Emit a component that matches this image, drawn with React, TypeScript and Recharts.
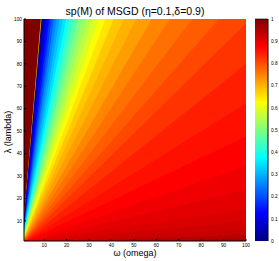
import React from 'react';
import { ComposedChart, AreaChart, Area, XAxis, YAxis } from 'recharts';

// ---- data ----
const omegaTicks = [10, 20, 30, 40, 50, 60, 70, 80, 90, 100];
const lambdaTicks = [10, 20, 30, 40, 50, 60, 70, 80, 90, 100];
const colorbarTicks = [0, 0.1, 0.2, 0.3, 0.4, 0.5, 0.6, 0.7, 0.8, 0.9, 1];

// contour bands fan out from the origin: each band starts at a ratio ω/λ (ascending)
const bandStartRatio = [
  0, 0.085, 0.088, 0.093, 0.099, 0.106, 0.114, 0.123, 0.133, 0.144, 0.156, 0.169,
  0.183, 0.198, 0.214, 0.231, 0.25, 0.27, 0.292, 0.316, 0.343, 0.373, 0.41, 0.455,
  0.51, 0.58, 0.66, 0.76, 0.88, 1.02, 1.25, 1.6, 2.1, 2.9, 4.2, 6.5, 10, 16, 26, 45,
];
// sp(M) value in each band
const bandValue = [
  1.0, 0.68, 0.01, 0.04, 0.08, 0.11, 0.14, 0.18, 0.22, 0.26, 0.29, 0.32,
  0.35, 0.39, 0.43, 0.46, 0.5, 0.53, 0.56, 0.59, 0.62, 0.65, 0.68, 0.70,
  0.72, 0.745, 0.765, 0.785, 0.805, 0.825, 0.845, 0.86, 0.875, 0.89, 0.9, 0.91, 0.92, 0.93, 0.945, 0.96,
];

const colorbarData = [
  { x: 0, v: 1 },
  { x: 1, v: 1 },
];

// ---- jet colormap ----
function jet(v: number): string {
  const c = (t: number) => Math.max(0, Math.min(1, 1.5 - Math.abs(4 * v - t)));
  const r = Math.round(c(3) * 255);
  const g = Math.round(c(2) * 255);
  const b = Math.round(c(1) * 255);
  return `rgb(${r},${g},${b})`;
}

const LMAX = 100;
const lam = (x: number, r: number) => {
  if (r === 0) return LMAX;
  return Math.min(LMAX, x / r);
};

// each band painted from the bottom up to its upper boundary λ = ω / ratio;
// later (larger-ratio) bands cover the lower part of earlier ones
function buildTable() {
  const xs = [0, LMAX];
  bandStartRatio.forEach((r) => {
    if (r > 0 && r * LMAX < LMAX) xs.push(r * LMAX);
  });
  xs.sort((a, b) => a - b);
  return xs.map((x) => {
    const row: Record<string, number> = { w: x };
    bandStartRatio.forEach((lo, i) => {
      row['u' + i] = lam(x, lo);
    });
    return row;
  });
}

const table = buildTable();

const FONT = "'Liberation Sans', Arial, Helvetica, sans-serif";
const tickStyle = { fontSize: 4.8, fill: '#000', fontFamily: FONT };

export default function App() {
  return (
    <div style={{ position: 'absolute', left: 0, top: 0, width: 279, height: 261, background: '#fff' }}>
      <div
        style={{
          position: 'absolute', left: 0, top: 5, width: 270, textAlign: 'center',
          fontFamily: FONT, fontSize: 10.5, lineHeight: '12px', color: '#000', whiteSpace: 'nowrap',
        }}
      >
        sp(M) of MSGD (η=0.1,δ=0.9)
      </div>
      <div
        style={{
          position: 'absolute', left: 0, top: 248, width: 270, textAlign: 'center',
          fontFamily: FONT, fontSize: 9, lineHeight: '10px', color: '#000', whiteSpace: 'nowrap',
        }}
      >
        ω (omega)
      </div>
      <div
        style={{
          position: 'absolute', left: 8, top: 132, transform: 'translate(-50%,-50%) rotate(-90deg)',
          fontFamily: FONT, fontSize: 9, lineHeight: '10px', color: '#000', whiteSpace: 'nowrap',
        }}
      >
        λ (lambda)
      </div>

      <div style={{ position: 'absolute', left: 0, top: 0 }}>
        <ComposedChart width={279} height={261} data={table} margin={{ top: 19, right: 33, bottom: 0, left: 0 }}>
          {bandStartRatio.map((_, i) => (
            <Area
              key={i}
              type="linear"
              dataKey={'u' + i}
              fill={jet(bandValue[i])}
              fillOpacity={1}
              stroke="none"
              dot={false}
              activeDot={false}
              isAnimationActive={false}
            />
          ))}
          <XAxis
            dataKey="w"
            type="number"
            domain={[1, 100]}
            allowDataOverflow
            ticks={omegaTicks}
            height={20}
            tickSize={-2}
            tickMargin={5}
            tick={tickStyle}
            stroke="#000"
            axisLine={{ stroke: '#000' }}
            tickLine={{ stroke: '#000' }}
          />
          <YAxis
            type="number"
            domain={[1, 100]}
            allowDataOverflow
            ticks={lambdaTicks}
            width={24}
            tickSize={-2}
            tickMargin={4}
            tick={tickStyle}
            stroke="#000"
            axisLine={{ stroke: '#000' }}
            tickLine={{ stroke: '#000' }}
          />
          <XAxis
            xAxisId="top"
            orientation="top"
            mirror
            type="number"
            domain={[1, 100]}
            allowDataOverflow
            ticks={omegaTicks}
            height={0}
            tickSize={2}
            tick={false}
            stroke="#000"
          />
          <YAxis
            yAxisId="right"
            orientation="right"
            mirror
            type="number"
            domain={[1, 100]}
            allowDataOverflow
            ticks={lambdaTicks}
            width={0}
            tickSize={2}
            tick={false}
            stroke="#000"
          />
        </ComposedChart>
      </div>

      <div style={{ position: 'absolute', left: 0, top: 0 }}>
        <AreaChart width={279} height={261} data={colorbarData} margin={{ top: 19, right: 0, bottom: 20, left: 255 }}>
          <defs>
            <linearGradient id="jetGrad" x1="0" y1="1" x2="0" y2="0">
              <stop offset="0" stopColor={jet(0)} />
              <stop offset="0.125" stopColor={jet(0.125)} />
              <stop offset="0.375" stopColor={jet(0.375)} />
              <stop offset="0.625" stopColor={jet(0.625)} />
              <stop offset="0.875" stopColor={jet(0.875)} />
              <stop offset="1" stopColor={jet(1)} />
            </linearGradient>
          </defs>
          <Area
            type="linear"
            dataKey="v"
            fill="url(#jetGrad)"
            fillOpacity={1}
            stroke="#000"
            strokeWidth={0.6}
            dot={false}
            activeDot={false}
            isAnimationActive={false}
          />
          <XAxis dataKey="x" type="number" domain={[0, 1]} hide />
          <YAxis
            orientation="right"
            type="number"
            domain={[0, 1]}
            ticks={colorbarTicks}
            tickFormatter={(v: number) => String(Math.round(v * 10) / 10)}
            width={11}
            tickSize={0}
            tickMargin={3}
            tick={tickStyle}
            stroke="#000"
            axisLine={{ stroke: '#000' }}
          />
          <XAxis xAxisId="cbtop" orientation="top" type="number" domain={[0, 1]} height={0} tick={false} tickLine={false} stroke="#000" mirror />
          <YAxis yAxisId="cbleft" orientation="left" type="number" domain={[0, 1]} width={0} tick={false} tickLine={false} stroke="#000" mirror />
          <XAxis xAxisId="cbbottom" orientation="bottom" type="number" domain={[0, 1]} height={0} tick={false} tickLine={false} stroke="#000" mirror />
        </AreaChart>
      </div>
    </div>
  );
}
